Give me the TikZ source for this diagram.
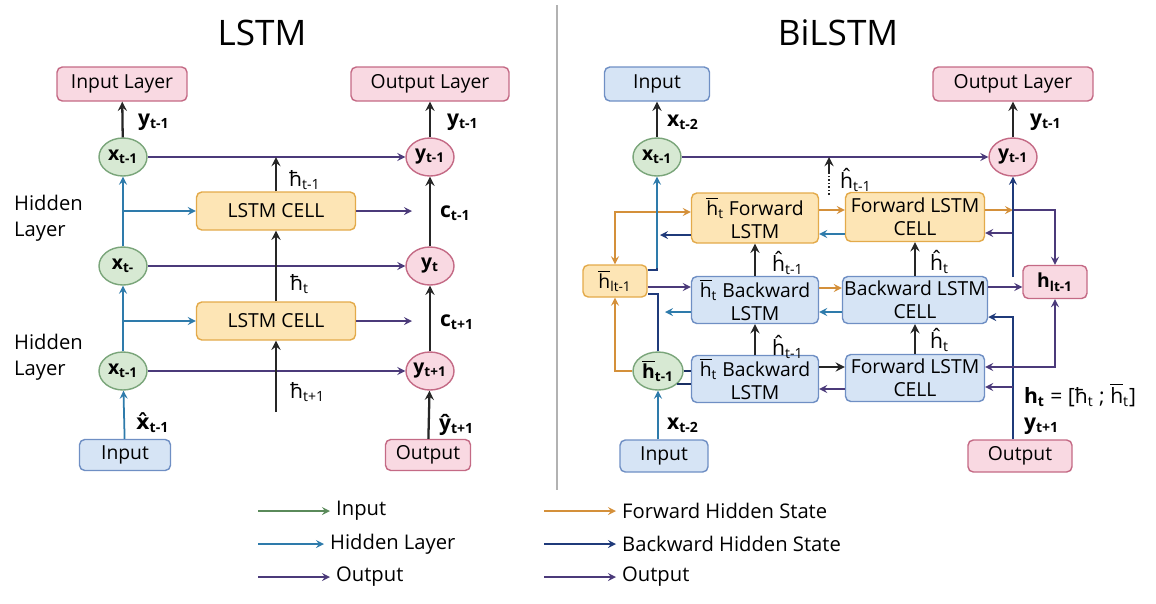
\documentclass[tikz,border=0pt]{standalone}
\usepackage{fontspec}
\setmainfont{Open Sans}
\newfontfamily\djv{DejaVu Sans}
\usetikzlibrary{shapes.geometric}
\definecolor{pinkfill}{HTML}{F9D9E2}
\definecolor{pinkline}{HTML}{C46A85}
\definecolor{bluefill}{HTML}{D6E4F5}
\definecolor{blueline}{HTML}{6F8FC4}
\definecolor{orfill}{HTML}{FDE5B5}
\definecolor{orline}{HTML}{E3AA4A}
\definecolor{grfill}{HTML}{D7E9D3}
\definecolor{grline}{HTML}{7AA57A}
\definecolor{incol}{HTML}{5A8A5A}
\definecolor{hidcol}{HTML}{2E7BAB}
\definecolor{outcol}{HTML}{4B3A7A}
\definecolor{fwdcol}{HTML}{D4903A}
\definecolor{bwdcol}{HTML}{1F3A7A}
\newcommand{\hov}{$\overline{\mbox{h}}$}
\newcommand{\xhat}{{\djv x̂}}
\begin{document}
\begin{tikzpicture}[x=0.02cm,y=-0.02cm,font=\fontsize{11}{13}\selectfont,
pbox/.style={rectangle,rounded corners=3pt,draw=pinkline,fill=pinkfill,thick,minimum height=0.68cm,inner sep=1pt},
bbox/.style={rectangle,rounded corners=3pt,draw=blueline,fill=bluefill,thick,minimum height=0.68cm,inner sep=1pt,align=center},
obox/.style={rectangle,rounded corners=3pt,draw=orline,fill=orfill,thick,minimum height=0.76cm,inner sep=1pt,align=center},
gnode/.style={ellipse,draw=grline,fill=grfill,thick,minimum width=0.96cm,minimum height=0.76cm,inner sep=0pt,font=\bfseries\fontsize{11}{13}\selectfont},
pnode/.style={ellipse,draw=pinkline,fill=pinkfill,thick,minimum width=0.96cm,minimum height=0.76cm,inner sep=0pt,font=\bfseries\fontsize{11}{13}\selectfont},
lbl/.style={anchor=west,inner sep=1pt,font=\bfseries\fontsize{12}{14}\selectfont},
hlbl/.style={anchor=west,inner sep=1pt,font=\fontsize{12}{14}\selectfont},
blk arrow/.style={-stealth,line width=1.3pt,black!85},
in arrow/.style={-stealth,line width=1pt,incol},
hid arrow/.style={-stealth,line width=1pt,hidcol},
out arrow/.style={-stealth,line width=1pt,outcol},
fwd arrow/.style={-stealth,line width=1pt,fwdcol},
bwd arrow/.style={-stealth,line width=1pt,bwdcol}]
\useasboundingbox (0,0) rectangle (1156,603);
% titles
\node (titleL) at (262,33) {\fontsize{20}{24}\selectfont LSTM};
\node (titleR) at (838,33) {\fontsize{20}{24}\selectfont BiLSTM};
\draw[gray!60,line width=1pt] (557,5) -- (557,490);

% ---- LSTM ----
\node[pbox,minimum width=2.6cm] (inL) at (122,84) {Input Layer};
\node[pbox,minimum width=3.16cm] (outL) at (430,84) {Output Layer};
\node[gnode] (xa) at (123,157) {x\textsubscript{t-1}};
\node[gnode] (xb) at (123,266) {x\textsubscript{t-}};
\node[gnode] (xc) at (123,371) {x\textsubscript{t-1}};
\node[pnode] (ya) at (430,157) {y\textsubscript{t-1}};
\node[pnode] (yb) at (430,266) {y\textsubscript{t}};
\node[pnode] (yc) at (430,371) {y\textsubscript{t+1}};
\node[obox,minimum width=3.18cm] (cellA) at (276,211) {LSTM CELL};
\node[obox,minimum width=3.18cm] (cellB) at (276,321) {LSTM CELL};
\node[bbox,minimum width=1.82cm,minimum height=0.62cm] (inpL) at (125,455) {Input};
\node[pbox,minimum width=1.7cm,minimum height=0.62cm] (outpL) at (428,455) {Output};
\node[anchor=west,align=left,font=\fontsize{11.5}{15}\selectfont] (hidA) at (8,218) {Hidden\\Layer};
\node[anchor=west,align=left,font=\fontsize{11.5}{15}\selectfont] (hidB) at (8,357) {Hidden\\Layer};
\coordinate (cA) at (412,211);
\coordinate (cB) at (412,321);
\coordinate (hin) at (276,412);

\draw[blk arrow] (xa) -- (inL);
\draw[out arrow] (xa) -- (ya);
\draw[blk arrow] (cellA) -- (cellA.north |- xa.east);
\draw[hid arrow] (xb) -- (xa);
\draw[hid arrow] (xb.north |- cellA.west) -- (cellA.west);
\draw[out arrow] (cellA) -- (cA);
\draw[blk arrow] (yb) -- (ya);
\draw[blk arrow] (ya) -- (outL);
\draw[out arrow] (xb) -- (yb);
\draw[blk arrow] (cellB) -- (cellA);
\draw[hid arrow] (xc) -- (xb);
\draw[hid arrow] (xc.north |- cellB.west) -- (cellB.west);
\draw[out arrow] (cellB) -- (cB);
\draw[blk arrow] (yc) -- (yb);
\draw[out arrow] (xc) -- (yc);
\draw[blk arrow] (hin) -- (cellB);
\draw[hid arrow] (inpL) -- (xc);
\draw[blk arrow] (outpL) -- (yc);

\node[lbl] (lyA) at (136,122) {y\textsubscript{t-1}};
\node[lbl] (lyB) at (445,122) {y\textsubscript{t-1}};
\node[hlbl] (lhA) at (287,180) {ħ\textsubscript{t-1}};
\node[lbl] (lcA) at (438,213) {c\textsubscript{t-1}};
\node[hlbl] (lhB) at (288,284) {ħ\textsubscript{t}};
\node[lbl] (lcB) at (438,322) {c\textsubscript{t+1}};
\node[hlbl] (lhC) at (288,392) {ħ\textsubscript{t+1}};
\node[lbl] (lxA) at (134,423) {\xhat\textsubscript{t-1}};
\node[lbl] (lyC) at (437,425) {ŷ\textsubscript{t+1}};

% ---- BiLSTM ----
\node[bbox,minimum width=2.1cm] (inR) at (657,84) {Input};
\node[pbox,minimum width=3.2cm] (outR) at (1013,84) {Output Layer};
\node[gnode] (xr) at (657,157) {x\textsubscript{t-1}};
\node[pnode] (yr) at (1013,157) {y\textsubscript{t-1}};
\node[obox,minimum width=2.54cm,minimum height=1cm] (fA) at (755,218) {\hov\textsubscript{t} Forward\\LSTM};
\node[bbox,minimum width=2.54cm,minimum height=0.94cm] (fB) at (755,300) {\hov\textsubscript{t} Backward\\LSTM};
\node[bbox,minimum width=2.54cm,minimum height=0.94cm] (fC) at (755,379) {\hov\textsubscript{t} Backward\\LSTM};
\node[obox,minimum width=2.78cm,minimum height=0.98cm] (gA) at (915,217) {Forward LSTM\\CELL};
\node[bbox,minimum width=2.78cm,minimum height=0.94cm] (gB) at (915,300) {Backward LSTM\\CELL};
\node[bbox,minimum width=2.78cm,minimum height=0.94cm] (gC) at (915,378) {Forward LSTM\\CELL};
\node[obox,minimum width=1.28cm,minimum height=0.64cm] (hl) at (615,281) {\hov\textsubscript{lt-1}};
\node[pbox,minimum width=1.28cm,minimum height=0.66cm] (hr) at (1055,282) {\textbf{h}\textsubscript{\bfseries lt-1}};
\node[gnode,minimum width=1cm] (hc) at (658,371) {\hov\textsubscript{t-1}};
\node[bbox,minimum width=1.76cm,minimum height=0.64cm] (inpR) at (664,456) {Input};
\node[pbox,minimum width=2.08cm,minimum height=0.64cm] (outpR) at (1020,456) {Output};
\coordinate (hd) at (829,195);
\coordinate (hk) at (657,268);
\coordinate (ja) at (1013,210);
\coordinate (jb) at (1013,233);
\coordinate (jc) at (1013,277);
\coordinate (jd) at (1013,387);
\coordinate (kA) at (660,235);
\coordinate (kB) at (665,312);

\draw[blk arrow] (xr) -- (inR);
\draw[out arrow] (xr) -- (yr);
\draw[black!85,line width=1pt,densely dotted] (hd) -- ([yshift=-0.3cm]hd |- xr.east);
\draw[blk arrow] ([yshift=-0.3cm]hd |- xr.east) -- (hd |- xr.east);
\draw[blk arrow] (yr) -- (outR);
\draw[fwd arrow] ([yshift=0.16cm]fA.east) -- ([yshift=0.16cm]fA.east -| gA.west);
\draw[hid arrow] ([yshift=-0.34cm]gA.west) -- ([yshift=-0.34cm]gA.west -| fA.east);
\draw[fwd arrow] ([yshift=0.24cm]fB.east) -- ([yshift=0.24cm]fB.east -| gB.west);
\draw[hid arrow] ([yshift=-0.24cm]gB.west) -- ([yshift=-0.24cm]gB.west -| fB.east);
\draw[blk arrow] ([yshift=0.24cm]fC.east) -- ([yshift=0.24cm]fC.east -| gC.west);
\draw[out arrow] ([yshift=-0.22cm]gC.west) -- ([yshift=-0.22cm]gC.west -| fC.east);
\draw[blk arrow] (fB) -- (fA);
\draw[blk arrow] (fC) -- (fB);
\draw[blk arrow] (gB) -- (gA);
\draw[blk arrow] (gC) -- (gB);
\draw[bwd arrow] ([yshift=-0.34cm]fA.west) -- (kA);
\draw[hid arrow] ([yshift=-0.24cm]fB.west) -- (kB);
\draw[out arrow] ([yshift=-0.12cm]hl.east) -- ([yshift=-0.12cm]hl.east -| fB.west);
\draw[fwd arrow,stealth-stealth] (hl) |- ([yshift=0.12cm]fA.west);
\draw[fwd arrow] (hc) -| (hl);
\draw[bwdcol,line width=1pt] (hc) |- ([yshift=-0.26cm]hl.east);
\draw[bwdcol,line width=1pt] ([yshift=0.22cm]hl.east) -| (hk);
\draw[hid arrow] (hk) -- (xr);
\draw[hid arrow] (hc.south |- inpR.north) -- (hc);
\draw[bwdcol!80!black,line width=1pt] (hc.east) -- (hc.east -| fC.west);
\draw[bwdcol!80!black,line width=1pt] (hc.-35) -- (hc.-35 -| fC.west);
\draw[fwd arrow] ([yshift=0.14cm]gA.east) -- (ja);
\draw[out arrow] (ja) -| (hr);
\draw[out arrow] (jb) -- (jb -| gA.east);
\draw[bwd arrow] (jc) -- (yr);
\draw[out arrow] ([yshift=0.26cm]gB.east) -- ([yshift=0.26cm]gB.east -| hr.west);
\draw[bwd arrow] (yr.south |- outpR.north) |- ([yshift=-0.34cm]gB.east);
\draw[out arrow,stealth-stealth] (hr) |- ([yshift=0.22cm]gC.east);
\draw[out arrow] (jd) -- (jd -| gC.east);

\node[lbl] (lxB) at (665,122) {x\textsubscript{t-2}};
\node[hlbl] (lhD) at (838,180) {ĥ\textsubscript{t-1}};
\node[lbl] (lyD) at (1028,122) {y\textsubscript{t-1}};
\node[hlbl] (lhE) at (770,263) {ĥ\textsubscript{t-1}};
\node[hlbl] (lhF) at (770,347) {ĥ\textsubscript{t-1}};
\node[hlbl] (lhG) at (928,262) {ĥ\textsubscript{t}};
\node[hlbl] (lhH) at (928,340) {ĥ\textsubscript{t}};
\node[lbl] (lxC) at (665,425) {x\textsubscript{t-2}};
\node[hlbl] (lhI) at (1022,395) {\textbf{h}\textsubscript{\bfseries t} = [ħ\textsubscript{t} ; \hov\textsubscript{t}]};
\node[lbl] (lyE) at (1022,426) {y\textsubscript{t+1}};

% legend
\node[anchor=west,font=\fontsize{11.5}{14}\selectfont] (lgA) at (330,511) {Input};
\node[anchor=west,font=\fontsize{11.5}{14}\selectfont] (lgB) at (324,544) {Hidden Layer};
\node[anchor=west,font=\fontsize{11.5}{14}\selectfont] (lgC) at (330,577) {Output};
\node[anchor=west,font=\fontsize{11.5}{14}\selectfont] (lgD) at (616,511) {Forward Hidden State};
\node[anchor=west,font=\fontsize{11.5}{14}\selectfont] (lgE) at (616,544) {Backward Hidden State};
\node[anchor=west,font=\fontsize{11.5}{14}\selectfont] (lgF) at (616,577) {Output};
\coordinate (mA) at (258,511);
\coordinate (mB) at (258,544);
\coordinate (mC) at (258,577);
\coordinate (mD) at (544,511);
\coordinate (mE) at (544,544);
\coordinate (mF) at (544,577);
\draw[in arrow] (mA) -- (lgA);
\draw[hid arrow] (mB) -- (lgB);
\draw[out arrow] (mC) -- (lgC);
\draw[fwd arrow] (mD) -- (lgD);
\draw[bwd arrow] (mE) -- (lgE);
\draw[out arrow] (mF) -- (lgF);
\end{tikzpicture}
\end{document}
